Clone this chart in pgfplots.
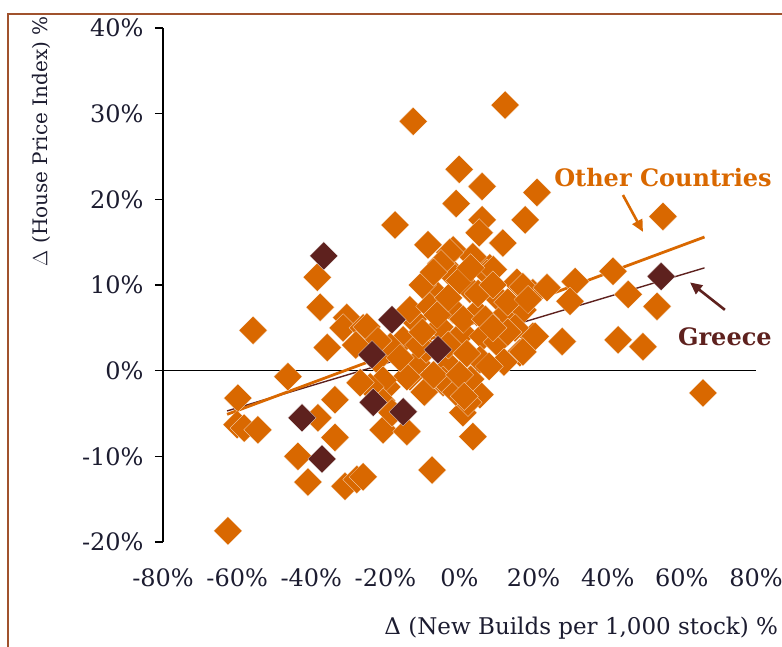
\documentclass[border=0pt]{standalone}
\usepackage{pgfplots}
\pgfplotsset{compat=1.18}
\usepackage{fontspec}
\setmainfont{DejaVu Serif}
\usetikzlibrary{arrows.meta}
\definecolor{orng}{RGB}{217,104,0}
\definecolor{grk}{RGB}{94,33,30}
\definecolor{framec}{RGB}{160,82,45}
\definecolor{txt}{RGB}{28,28,48}

\pgfplotstableread{
x y
-62.5 -18.7
-59.8 -3.2
-60.0 -6.3
-58.1 -6.7
-54.4 -6.9
-55.7 4.7
-46.3 -0.7
-38.4 10.9
-37.6 7.4
-35.7 2.7
-30.4 6.2
-31.4 5.0
-26.0 5.0
-38.2 -5.5
-33.6 -3.4
-33.6 -7.8
-43.6 -10.0
-40.9 -13.0
-30.9 -13.5
-27.7 -12.7
-26.0 -12.4
-20.6 -6.9
-17.4 17.0
-12.5 29.1
-7.4 -11.6
-4.4 -1.4
5.5 -2.8
0.9 -4.9
2.3 -3.7
3.6 -7.7
-14.2 -7.1
-19.6 -1.9
-13.4 -0.7
12.3 31.0
-0.1 23.5
6.1 21.5
20.9 20.8
-0.9 19.5
17.7 17.6
6.1 17.6
5.3 16.1
-8.5 14.7
11.7 14.9
-1.7 14.1
3.6 13.3
8.2 12.0
-3.4 12.1
-2.0 11.2
7.4 11.4
15.5 10.3
19.8 9.1
-6.6 8.5
2.8 9.5
10.1 8.6
17.1 7.1
-1.7 7.1
4.7 6.8
11.7 6.3
-12.5 6.0
-5.3 5.1
0.9 4.4
6.3 4.0
10.1 3.3
16.3 2.1
19.8 4.0
-15.2 3.6
-18.7 2.8
-22.3 1.3
-11.5 0.9
-2.6 0.5
5.5 1.3
-14.2 -0.7
-4.4 -1.1
-20.6 -1.1
-2.6 13.8
9.1 11.8
17.1 9.8
-6.6 9.1
-25.0 5.1
-13.4 7.1
-9.0 2.5
-8.0 7.5
-3.0 3.0
2.0 2.0
-9.5 -2.5
-10.0 10.0
-5.0 12.5
0.0 10.5
5.0 9.0
9.0 10.0
13.0 8.0
15.0 5.0
12.0 1.0
8.0 0.5
3.0 -1.0
-1.0 -2.5
-7.0 -0.5
-11.0 3.0
-16.0 1.5
-7.0 11.5
1.0 6.0
7.0 6.0
13.0 4.5
-6.0 6.5
-3.0 8.5
3.0 12.0
-10.0 4.5
0.0 -0.5
9.0 5.0
-22.0 3.5
-28.0 3.0
-21.0 -3.5
54.9 18.0
41.4 11.6
31.2 10.4
23.6 9.7
29.8 8.1
45.5 8.9
53.3 7.5
18.5 8.3
20.4 4.0
27.7 3.4
42.8 3.6
49.5 2.8
17.1 2.2
65.7 -2.6
-24.1 -1.9
-26.8 -1.4
-18.2 -4.9
1.3 -3.0
}\othertable

\pgfplotstableread{
x y
-36.6 13.4
-18.2 5.95
-23.6 1.87
-5.8 2.45
-42.5 -5.5
-23.3 -3.7
-15.2 -4.8
-37.1 -10.3
54.4 11.0
}\greecetable

\begin{document}
\begin{tikzpicture}
\begin{axis}[
 scale only axis, width=593pt, height=514pt,
 xmin=-80, xmax=80, ymin=-20, ymax=40,
 axis lines*=left,
 x axis line style={draw=none},
 y axis line style={line width=1.3pt},
 xtick={-80,-60,...,80},
 xticklabels={-80\%,-60\%,-40\%,-20\%,0\%,20\%,40\%,60\%,80\%},
 ytick={-20,-10,...,40},
 yticklabels={-20\%,-10\%,0\%,10\%,20\%,30\%,40\%},
 xtick style={draw=none},
 ytick style={black, line width=1.2pt},
 tick align=outside,
 major tick length=8pt,
 ticklabel style={font=\fontsize{24}{26}\selectfont, text=txt},
 xticklabel style={yshift=-15pt},
 yticklabel style={xshift=-8pt},
 clip=false,
]
\addplot[black, line width=1pt] coordinates {(-80,0) (80,0)};
\addplot[grk, line width=1.4pt] coordinates {(-62.7,-4.7) (66.1,12.0)};
\addplot[orng, line width=2.8pt] coordinates {(-62.7,-5.1) (66.1,15.6)};
\addplot[only marks, mark=square*, mark size=10pt,
  mark options={rotate=45, fill=orng, draw=white, line width=0.15pt}] table {\othertable};
\addplot[only marks, mark=square*, mark size=10pt,
  mark options={rotate=45, fill=grk, draw=white, line width=0.2pt}] table {\greecetable};

\node[text=orng, font=\fontsize{24}{26}\selectfont\bfseries] at (axis cs:54.9,22.5) {Other Countries};
\draw[orng, line width=2.6pt, -{Triangle[length=12pt,width=11pt]}] (axis cs:44.1,20.5) -- (axis cs:49.5,16.2);
\node[text=grk, font=\fontsize{24}{26}\selectfont\bfseries] at (axis cs:71.6,4.0) {Greece};
\draw[grk, line width=2.6pt, -{Triangle[length=12pt,width=11pt]}] (axis cs:71.6,7.1) -- (axis cs:62.2,10.3);

\node[rotate=90, anchor=west, text=txt, font=\fontsize{20}{22}\selectfont] at (axis cs:-112.8,11.8) {$\Delta$ (House Price Index) \%};
\node[anchor=east, text=txt, font=\fontsize{23}{25}\selectfont] at (axis cs:86.9,-30.0) {Δ (New Builds per 1,000 stock) \%};
\end{axis}
\draw[framec, line width=1.5pt] ([shift={(-155pt,-120pt)}]current axis.south west) -- ([shift={(-155pt,14pt)}]current axis.north west) -- ([shift={(40pt,14pt)}]current axis.north east);
\pgfresetboundingbox
\path[use as bounding box] ([shift={(-163pt,-104pt)}]current axis.south west) rectangle ([shift={(26pt,28pt)}]current axis.north east);
\end{tikzpicture}
\end{document}
